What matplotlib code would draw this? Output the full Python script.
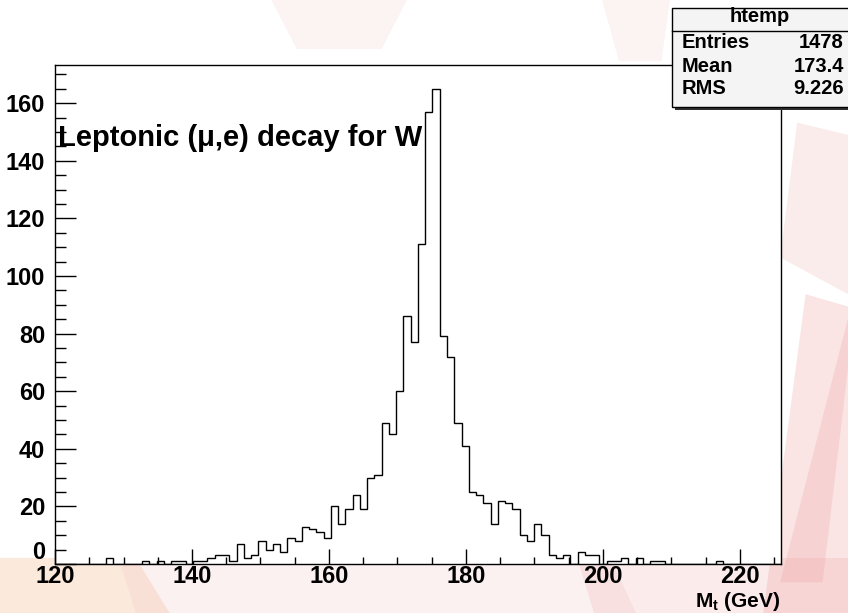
import numpy as np
import matplotlib.pyplot as plt
from matplotlib.patches import Rectangle, Polygon

# htemp: 100 bins between 120 and 226 GeV
counts = [0, 0, 0, 0, 0, 0, 0, 2, 0, 0,
          0, 0, 1, 0, 1, 0, 1, 1, 0, 1,
          1, 2, 3, 3, 1, 7, 2, 3, 8, 5,
          7, 4, 9, 8, 13, 12, 11, 9, 20, 14,
          19, 24, 19, 30, 31, 49, 45, 60, 86, 77,
          111, 157, 165, 79, 72, 49, 41, 25, 24, 21,
          14, 22, 21, 19, 10, 8, 14, 10, 3, 2,
          3, 0, 4, 3, 3, 0, 1, 1, 2, 0,
          2, 0, 1, 1, 0, 0, 0, 0, 0, 0,
          0, 1, 0, 0, 0, 0, 0, 0, 0, 0]
x_lo, x_hi = 120, 226
stat_names = ['Entries', 'Mean', 'RMS']
stat_values = ['1478', '173.4', '9.226']
hist_name = 'htemp'

plt.rcParams['font.family'] = ['Liberation Sans', 'DejaVu Sans']
plt.rcParams['font.weight'] = 'bold'
plt.rcParams['mathtext.default'] = 'regular'

fig = plt.figure(figsize=(8.48, 6.13), dpi=100)
fig.patch.set_facecolor('white')

# faded watermark behind the pad (soft, several overlapping layers)
bands = [
    ([(0.0, 0.0), (0.20, 0.0), (0.16, 0.09), (0.0, 0.09)], '#f3b98e', 0.30),
    ([(0.16, 0.0), (0.75, 0.0), (0.72, 0.09), (0.14, 0.09)], '#f2c2c2', 0.22),
    ([(0.70, 0.0), (1.0, 0.0), (1.0, 0.09), (0.68, 0.09)], '#f0b0b0', 0.25),
    ([(0.90, 0.0), (1.0, 0.0), (1.0, 0.50), (0.95, 0.52)], '#ee9f9f', 0.28),
    ([(0.92, 0.05), (0.97, 0.05), (1.0, 0.40), (1.0, 0.48)], '#e98c8c', 0.20),
    ([(0.92, 0.58), (1.0, 0.52), (1.0, 0.78), (0.94, 0.80)], '#f0b4b4', 0.25),
    ([(0.32, 1.0), (0.48, 1.0), (0.45, 0.92), (0.35, 0.92)], '#f4c4c4', 0.20),
    ([(0.71, 1.0), (0.79, 1.0), (0.78, 0.90), (0.73, 0.90)], '#f4c4c4', 0.20),
]
for pts, col, a in bands:
    fig.add_artist(Polygon(pts, closed=True, transform=fig.transFigure,
                           facecolor=col, edgecolor='none', alpha=a, zorder=-2))

ax = fig.add_axes([0.0649, 0.080, 0.856, 0.814])
ax.set_facecolor('white')

edges = np.linspace(x_lo, x_hi, len(counts) + 1)
ax.stairs(counts, edges, color='black', linewidth=1.0, baseline=0)

ax.set_xlim(x_lo, x_hi)
ax.set_ylim(0, 1.05 * max(counts))
ax.set_xticks(np.arange(120, 221, 20))
ax.set_xticks(np.arange(120, 226, 5), minor=True)
ax.set_yticks(np.arange(0, 161, 20))
ax.set_yticks(np.arange(0, 171, 5), minor=True)
ax.tick_params(axis='both', which='both', direction='in', top=False, right=False,
               labelsize=17, width=1.0, color='black')
ax.tick_params(axis='y', which='major', length=15, pad=7)
ax.tick_params(axis='y', which='minor', length=8)
ax.tick_params(axis='x', which='major', length=10.5, pad=1)
ax.tick_params(axis='x', which='minor', length=5)
for s in ax.spines.values():
    s.set_linewidth(1.0)
    s.set_color('black')

# ROOT puts the "0" label just above the axis
fig.canvas.draw()
ylabels = ax.get_yticklabels()
ylabels[0].set_verticalalignment('bottom')

ax.text(0.004, 0.854, 'Leptonic (μ,e) decay for W', transform=ax.transAxes,
        fontsize=21, fontweight='bold', ha='left', va='center')
ax.text(1.0, -0.076, 'M$_t$ (GeV)', transform=ax.transAxes,
        fontsize=15, fontweight='bold', ha='right', va='center')

# stats box in the top right corner
bx0, by0, bx1, by1 = 0.792, 0.826, 1.01, 0.9865
sh = 3.0 / 848
fig.add_artist(Rectangle((bx0 + sh, by0 - 3.0 / 613), bx1 - bx0, by1 - by0,
                         transform=fig.transFigure, facecolor='#303030',
                         edgecolor='none', zorder=4))
fig.add_artist(Rectangle((bx0, by0), bx1 - bx0, by1 - by0,
                         transform=fig.transFigure, facecolor='#f4f4f4',
                         edgecolor='black', linewidth=1.0, zorder=5))
sep_y = 1 - 30.7 / 613
fig.add_artist(plt.Line2D([bx0, bx1], [sep_y, sep_y], transform=fig.transFigure,
                          color='black', linewidth=1.0, zorder=6))
fig.text(760 / 848, 1 - 17 / 613, hist_name, fontsize=14.5, fontweight='bold',
         ha='center', va='center', zorder=7)
row_y = [43, 66, 88]
for name, val, yy in zip(stat_names, stat_values, row_y):
    fig.text(682 / 848, 1 - yy / 613, name, fontsize=14.5, fontweight='bold',
             ha='left', va='center', zorder=7)
    fig.text(844 / 848, 1 - yy / 613, val, fontsize=14.5, fontweight='bold',
             ha='right', va='center', zorder=7)

fig.savefig('out.png', dpi=100)
